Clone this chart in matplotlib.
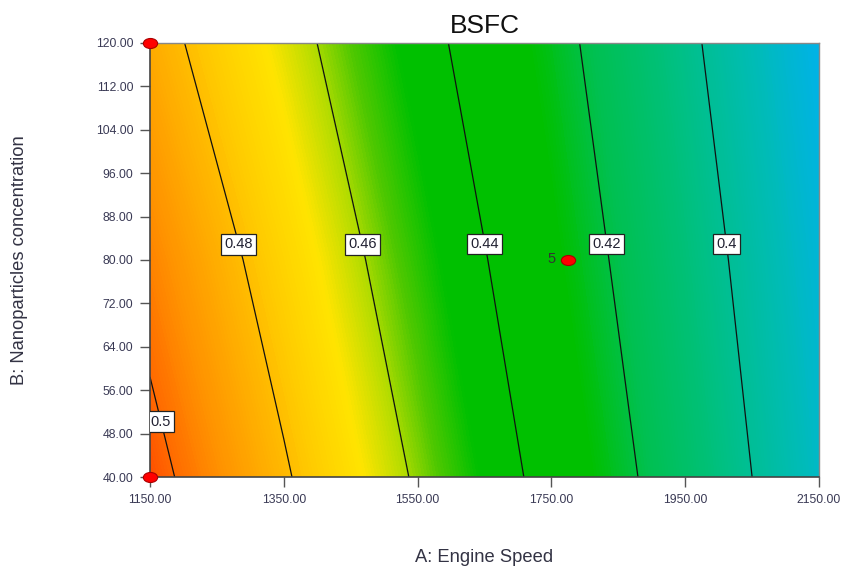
import numpy as np
import matplotlib.pyplot as plt
from matplotlib.colors import LinearSegmentedColormap
from matplotlib.markers import MarkerStyle
from matplotlib.transforms import Affine2D

plt.rcParams['font.family'] = ['Liberation Sans', 'DejaVu Sans']

# BSFC on a coarse grid (rows = concentration)
velocidad = [1150, 1350, 1550, 1750, 1950, 2150]
concentracion = [40, 80, 120]
bsfc = [
    [0.5042, 0.4814, 0.4585, 0.4352, 0.4117, 0.3883],
    [0.4951, 0.4734, 0.4515, 0.4296, 0.4073, 0.3847],
    [0.4852, 0.4651, 0.4446, 0.4246, 0.4028, 0.3803],
]
niveles = [0.40, 0.42, 0.44, 0.46, 0.48, 0.50]

# design points
puntos_x = [1150, 1150, 1775]
puntos_y = [120, 40, 80]
etiqueta_centro = "5"

xticks = [1150, 1350, 1550, 1750, 1950, 2150]
yticks = [40, 48, 56, 64, 72, 80, 88, 96, 104, 112, 120]

# colour scale: cyan-blue -> green -> yellow -> red
stops = [
    (0.380, '#00b2e8'),
    (0.392, '#00bcb4'),
    (0.405, '#00c080'),
    (0.418, '#00c050'),
    (0.428, '#00c000'),
    (0.448, '#00c000'),
    (0.455, '#50c800'),
    (0.461, '#b4dc00'),
    (0.468, '#ffe400'),
    (0.476, '#ffcc00'),
    (0.484, '#ffb000'),
    (0.492, '#ff9200'),
    (0.500, '#ff6c00'),
    (0.505, '#ff4c00'),
]
vmin, vmax = stops[0][0], stops[-1][0]
cmap = LinearSegmentedColormap.from_list(
    'bsfc', [((v - vmin) / (vmax - vmin), c) for v, c in stops])

X, Y = np.meshgrid(velocidad, concentracion)
Z = np.array(bsfc)

fig = plt.figure(figsize=(8.41, 5.69), dpi=100)
ax = fig.add_axes([150 / 841, 1 - 477 / 569, 669 / 841, 434 / 569])

ax.contourf(X, Y, Z, levels=np.linspace(vmin, vmax, 250), cmap=cmap,
            vmin=vmin, vmax=vmax, antialiased=False)
cs = ax.contour(X, Y, Z, levels=niveles, colors='#111111', linewidths=0.9)

pos_etiquetas = [(2013, 83), (1836, 83), (1653, 83), (1471, 83), (1287, 83), (1160, 50)]
textos = ax.clabel(cs, fmt='%g', fontsize=10.5, inline=False, manual=pos_etiquetas)
for t in textos:
    t.set_rotation(0)
    t.set_color('#222233')
    t.set_bbox(dict(facecolor='white', edgecolor='#222222', linewidth=0.9,
                    boxstyle='square,pad=0.22'))
    t.set_zorder(5)

elipse = MarkerStyle('o', transform=Affine2D().scale(1.35, 0.95))
ax.scatter(puntos_x, puntos_y, s=58, marker=elipse, color='#ff0000',
           edgecolors='#aa0000', linewidths=0.8, zorder=6, clip_on=False)
ax.annotate(etiqueta_centro, (puntos_x[2], puntos_y[2]), xytext=(-12, 0.5),
            textcoords='offset points', ha='center', va='center',
            fontsize=10.5, color='#333333', zorder=6)

ax.set_xlim(1150, 2150)
ax.set_ylim(40, 120)
ax.set_xticks(xticks)
ax.set_yticks(yticks)
ax.set_xticklabels([f'{v:.2f}' for v in xticks])
ax.set_yticklabels([f'{v:.2f}' for v in yticks])
ax.tick_params(direction='out', length=7, width=1, color='#555555',
               labelsize=8.8, labelcolor='#3a3a55', pad=5)

for lado in ['left', 'bottom']:
    ax.spines[lado].set_color('#444444')
    ax.spines[lado].set_linewidth(1.2)
for lado in ['top', 'right']:
    ax.spines[lado].set_color('#888888')
    ax.spines[lado].set_linewidth(1.0)

ax.set_title('BSFC', fontsize=19, color='#111111', pad=7)
ax.set_xlabel('A: Engine Speed', fontsize=13.2, color='#333344')
ax.set_ylabel('B: Nanoparticles concentration', fontsize=13.2, color='#333344')
ax.xaxis.set_label_coords(0.5, -0.165)
ax.yaxis.set_label_coords(-0.182, 0.5)

plt.savefig('out.png', dpi=100)
